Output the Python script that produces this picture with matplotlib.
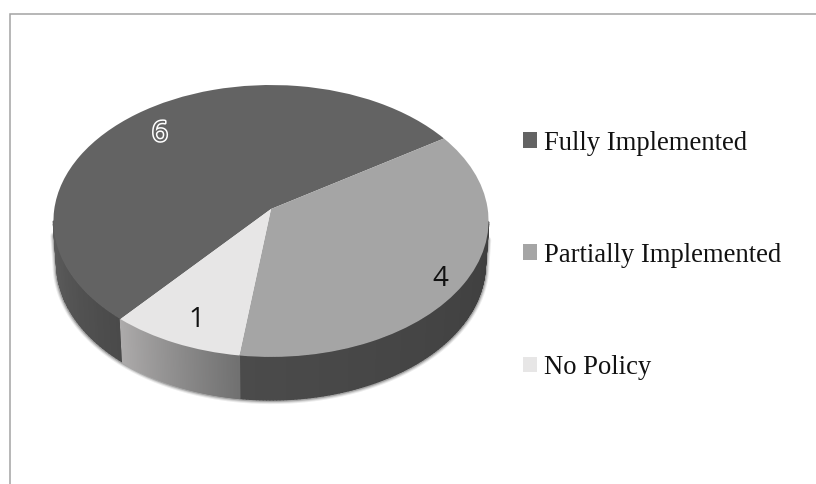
import numpy as np
import matplotlib
matplotlib.use('Agg')
import matplotlib.pyplot as plt
import matplotlib.patheffects as pe
from matplotlib.colors import to_rgb
from matplotlib.collections import PolyCollection
from matplotlib.path import Path
from matplotlib.transforms import Transform

## data
labels = ['Fully Implemented', 'Partially Implemented', 'No Policy']
values = [6, 4, 1]
colors = ['#636363', '#a5a5a5', '#e7e6e6']
## side wall shades, left to right
wall_left = ['#5e5e5e', '#4b4b4b', '#adabab']
wall_right = ['#4a4a4a', '#3f3f3f', '#717171']

## pie position on the canvas, in pixels
APEX_X, APEX_Y = 271, 209
RX, RY, TILT = 216.7, 134.9, 0.088
DEPTH = 43
BASE_SHRINK = 0.985


def project(x, y):
    w = 1 + TILT * y
    return APEX_X + RX * x / w, APEX_Y - RY * y / w


def base(px, py):
    # lower rim sits a little further away, so slightly narrower
    return APEX_X + (px - APEX_X) * BASE_SHRINK, py + DEPTH


class PieView(Transform):
    # flat unit pie -> tilted pie with a bit of perspective
    input_dims = 2
    output_dims = 2

    def transform_non_affine(self, values):
        values = np.asarray(values)
        px, py = project(values[:, 0], values[:, 1])
        return np.column_stack([px, py])

    def transform_path_non_affine(self, path):
        return Path(self.transform_non_affine(path.vertices), path.codes)


fig = plt.figure(figsize=(8.16, 4.84), dpi=100)
ax = fig.add_axes([0, 0, 1, 1])

wedges, _ = ax.pie(values, colors=colors, startangle=229.6, counterclock=False,
                   wedgeprops={'linewidth': 0})
view = PieView() + ax.transData
for w in wedges:
    w.set_transform(view)
    w.set_clip_on(False)
    w.set_zorder(3)

ax.set_aspect('auto')
ax.set_xlim(0, 816)
ax.set_ylim(484, 0)
ax.axis('off')

## side walls
for i, w in enumerate(wedges):
    th = np.radians(np.linspace(w.theta1, w.theta2, 160))
    th = th[np.sin(th) < -TILT]
    if len(th) < 2:
        continue
    px, py = project(np.cos(th), np.sin(th))
    order = np.argsort(px)
    px, py = px[order], py[order]
    bx, by = base(px, py)
    quads = []
    cols = []
    c0, c1 = np.array(to_rgb(wall_left[i])), np.array(to_rgb(wall_right[i]))
    for j in range(len(px) - 1):
        quads.append([(px[j], py[j]), (px[j + 1], py[j + 1]),
                      (bx[j + 1], by[j + 1]), (bx[j], by[j])])
        t = j / (len(px) - 2)
        cols.append(c0 + (c1 - c0) * t)
    ax.add_collection(PolyCollection(quads, facecolors=cols, edgecolors=cols,
                                     linewidths=1.0, zorder=2))

## soft shadow along the lower rim, running a bit up the sides
rim = np.radians(np.linspace(180 + np.degrees(np.arcsin(TILT)),
                             360 - np.degrees(np.arcsin(TILT)), 300))
tx, ty = project(np.cos(rim), np.sin(rim))
rx, ry = base(tx, ty)
rx = np.r_[tx[0] + (rx[0] - tx[0]) * 0.35, rx, tx[-1] + (rx[-1] - tx[-1]) * 0.45]
ry = np.r_[ty[0] + (ry[0] - ty[0]) * 0.35, ry, ty[-1] + (ry[-1] - ty[-1]) * 0.45]
for lw, alpha in [(6, 0.10), (4.5, 0.16), (3, 0.28)]:
    ax.plot(rx, ry, color='#404040', lw=lw, alpha=alpha, zorder=1,
            solid_capstyle='round')

## data labels
num_font = dict(family='Open Sans', fontsize=20, ha='center', va='center', zorder=4)
ax.text(160, 134, str(values[0]), color=colors[0],
        path_effects=[pe.withStroke(linewidth=2.2, foreground='white')], **num_font)
ax.text(440.5, 279, str(values[1]), color='#111111', **num_font)
ax.text(196, 320, str(values[2]), color='#111111', **num_font)

## legend
leg = ax.legend(wedges, labels, loc='upper left', bbox_to_anchor=(523, 130.5),
                bbox_transform=ax.transData, frameon=False,
                prop={'family': 'Liberation Serif', 'size': 19.2},
                handlelength=0.53, handleheight=0.53, handletextpad=0.25,
                labelspacing=3.27, borderpad=0, borderaxespad=0)
leg.set_zorder(5)
for t in leg.get_texts():
    t.set_color('#111111')

## chart border, only top and left show up
ax.plot([816, 10, 10], [14, 14, 484], color='#a3a3a3', lw=1.1, zorder=0,
        solid_joinstyle='miter')

fig.savefig('out.png', dpi=100)
